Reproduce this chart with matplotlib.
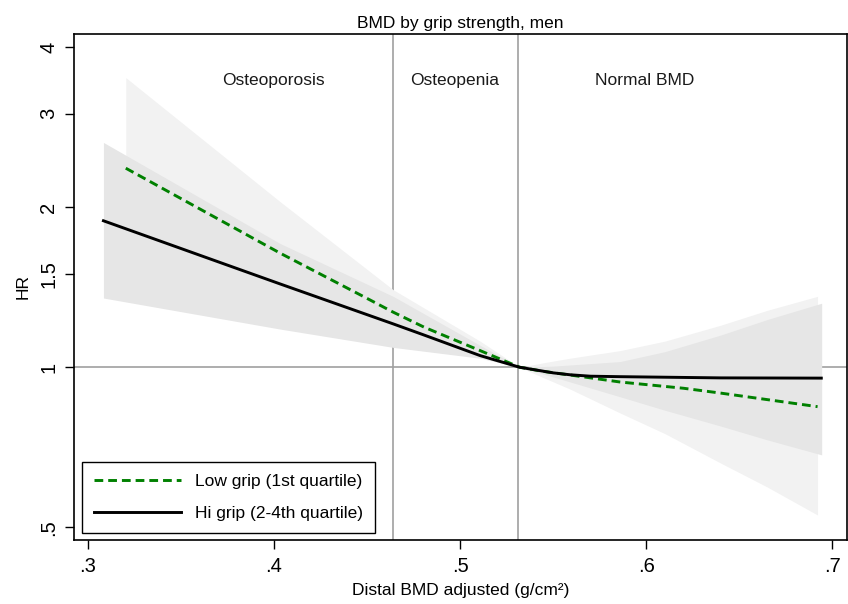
#!/usr/bin/env python3
"""
HR for fracture by distal BMD, split by grip strength (men).
Spline estimates with 95% CI bands, log HR axis.
"""

import matplotlib
matplotlib.use('Agg')
import matplotlib.pyplot as plt
from matplotlib.ticker import FixedLocator, FixedFormatter, NullLocator

plt.rcParams['font.family'] = ['Liberation Sans', 'DejaVu Sans']

# ---------------------------------------------------------------------------
# Data
# ---------------------------------------------------------------------------

# Low grip (1st quartile): point estimate
low_x  = [0.3204, 0.4033, 0.4498, 0.464, 0.4806, 0.5107, 0.532, 0.545, 0.559, 0.586, 0.62, 0.64, 0.692]
low_hr = [2.37,   1.64,   1.349,  1.27,  1.19,   1.075,  1.0,   0.982, 0.967, 0.938, 0.913, 0.894, 0.843]

# Low grip 95% CI
low_ci_x  = [0.3204, 0.4033, 0.464, 0.5107, 0.532, 0.545, 0.559, 0.586, 0.61,  0.64,  0.665, 0.692]
low_ci_lo = [1.60,   1.35,   1.17,  1.05,   1.0,   0.955, 0.91,  0.82,  0.75,  0.66,  0.595, 0.527]
low_ci_hi = [3.51,   2.05,   1.40,  1.12,   1.0,   1.02,  1.04,  1.075, 1.12,  1.20,  1.28,  1.36]

# Hi grip (2-4th quartile): point estimate
hi_x  = [0.3084, 0.375, 0.4033, 0.464, 0.4806, 0.5107, 0.532, 0.55,  0.559, 0.57,  0.586, 0.64,  0.694]
hi_hr = [1.887,  1.557, 1.435,  1.207, 1.15,   1.052,  1.0,   0.976, 0.968, 0.962, 0.960, 0.955, 0.954]

# Hi grip 95% CI
hi_ci_x  = [0.3084, 0.4033, 0.464, 0.5107, 0.532, 0.55,  0.5859, 0.61,  0.64,  0.665, 0.6942]
hi_ci_lo = [1.35,   1.18,   1.09,  1.04,   1.0,   0.959, 0.88,   0.83,  0.775, 0.73,  0.684]
hi_ci_hi = [2.65,   1.71,   1.36,  1.10,   1.0,   1.005, 1.025,  1.07,  1.15,  1.23,  1.32]

# BMD category cut-offs and labels
cutoffs = [0.4641, 0.5311]
zone_labels = ['Osteoporosis', 'Osteopenia', 'Normal BMD']
zone_label_x = [0.3996, 0.4973, 0.5993]

y_ticks = [0.5, 1, 1.5, 2, 3, 4]
y_ticklabels = ['.5', '1', '1.5', '2', '3', '4']
x_ticks = [0.3, 0.4, 0.5, 0.6, 0.7]
x_ticklabels = ['.3', '.4', '.5', '.6', '.7']


# ---------------------------------------------------------------------------
# Plot
# ---------------------------------------------------------------------------

def main():
    fig = plt.figure(figsize=(8.48, 6.04), dpi=100)
    ax = fig.add_axes([0.0873, 0.106, 0.9115, 0.8377])

    ax.set_yscale('log')
    ax.set_xlim(0.2926, 0.7078)
    ax.set_ylim(0.473, 4.24)

    # reference lines (drawn under the bands)
    for c in cutoffs:
        ax.axvline(c, color='#a0a0a0', linewidth=1.2, zorder=1)
    ax.axhline(1.0, color='#a0a0a0', linewidth=1.2, zorder=1)

    # CI bands
    ax.fill_between(low_ci_x, low_ci_lo, low_ci_hi, color='#f2f2f2', linewidth=0, zorder=2)
    ax.fill_between(hi_ci_x, hi_ci_lo, hi_ci_hi, color='#e6e6e6', linewidth=0, zorder=2.5)

    # estimates
    ax.plot(low_x, low_hr, color='#008000', linewidth=2.1, linestyle=(0, (3.0, 1.7)),
            label='Low grip (1st quartile)', zorder=3)
    ax.plot(hi_x, hi_hr, color='black', linewidth=2.1,
            label='Hi grip (2-4th quartile)', zorder=3)

    for lab, lx in zip(zone_labels, zone_label_x):
        ax.text(lx, 3.47, lab, ha='center', va='center', fontsize=12.5, color='#1a1a1a')

    ax.yaxis.set_major_locator(FixedLocator(y_ticks))
    ax.yaxis.set_major_formatter(FixedFormatter(y_ticklabels))
    ax.yaxis.set_minor_locator(NullLocator())
    ax.set_xticks(x_ticks)
    ax.set_xticklabels(x_ticklabels)

    ax.tick_params(axis='both', direction='out', length=6.5, width=1.0,
                   labelsize=14.5, colors='black')
    ax.tick_params(axis='x', pad=6)
    ax.tick_params(axis='y', pad=5, labelrotation=90)
    for lbl in ax.get_yticklabels():
        lbl.set_va('center')

    for sp in ax.spines.values():
        sp.set_color('black')
        sp.set_linewidth(1.2)

    ax.set_xlabel('Distal BMD adjusted (g/cm\u00b2)', fontsize=12.5, labelpad=5)
    ax.set_ylabel('HR', fontsize=12.5, labelpad=6)
    ax.set_title('BMD by grip strength, men', fontsize=12.5, pad=4)

    leg = ax.legend(loc='lower left', bbox_to_anchor=(0.0103, 0.0132), borderaxespad=0,
                    fontsize=12.5, handlelength=5.0, handletextpad=0.8,
                    labelspacing=0.95, borderpad=0.7, fancybox=False, framealpha=1)
    leg.get_frame().set_edgecolor('black')
    leg.get_frame().set_linewidth(1.0)

    plt.savefig('out.png', dpi=100)
    plt.close()


if __name__ == '__main__':
    main()
